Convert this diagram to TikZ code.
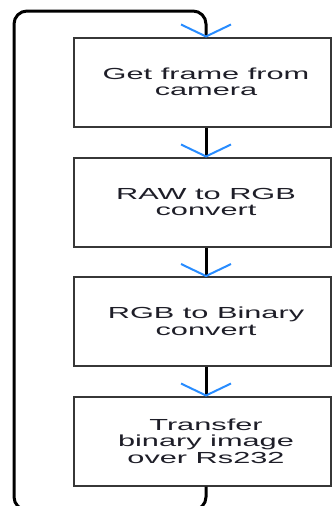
\documentclass[tikz,border=0pt]{standalone}
\usepackage{fontspec}
\setmainfont{Liberation Sans}
\newfontfamily\widefont[FakeStretch=1.92]{Liberation Sans}
\usetikzlibrary{calc}
\definecolor{arrowblue}{RGB}{40,140,255}
\definecolor{boxline}{RGB}{55,55,55}
\definecolor{txt}{RGB}{30,30,40}
\tikzset{
  stepbox/.style={draw=boxline, line width=2pt, fill=white, minimum width=257pt, minimum height=89pt, inner sep=0pt, text=txt, align=center, font=\widefont\fontsize{16}{16.5}\selectfont},
  flow/.style={line width=3pt, black},
  vtip/.style={arrowblue, line width=2pt}
}
\begin{document}
\begin{tikzpicture}[x=1pt,y=1pt]
\useasboundingbox (0,0) rectangle (333,-506);
\clip (0,0) rectangle (333,-506);
\coordinate (col) at (206,0);
\node[stepbox] (b1) at (202.5,-82) {\hspace*{7pt}Get frame from\\\hspace*{7pt}camera};
\node[stepbox] (b2) at (202.5,-202) {\hspace*{7pt}RAW to RGB\\\hspace*{7pt}convert};
\node[stepbox] (b3) at (202.5,-321.5) {\hspace*{7pt}RGB to Binary\\\hspace*{7pt}convert};
\node[stepbox] (b4) at (202.5,-441) {\hspace*{7pt}Transfer\\\hspace*{7pt}binary image\\\hspace*{7pt}over Rs232};
\coordinate (br) at (206,-510);
\coordinate (bl) at (14,-510);
\coordinate (tl) at (14,-11);
\coordinate (tr) at (206,-11);
\draw[flow] (b1.south -| col) -- (b2.north -| col);
\draw[flow] (b2.south -| col) -- (b3.north -| col);
\draw[flow] (b3.south -| col) -- (b4.north -| col);
\draw[flow, rounded corners=13pt] (b4.south -| col) -- (br) -- (bl) -- (tl) -- (tr) -- (b1.north -| col);
\foreach \b in {b1,b2,b3,b4}{
  \draw[vtip] ($(\b.north -| col)+(-25,12)$) -- (\b.north -| col) -- ++(25,12);
}
\end{tikzpicture}
\end{document}
